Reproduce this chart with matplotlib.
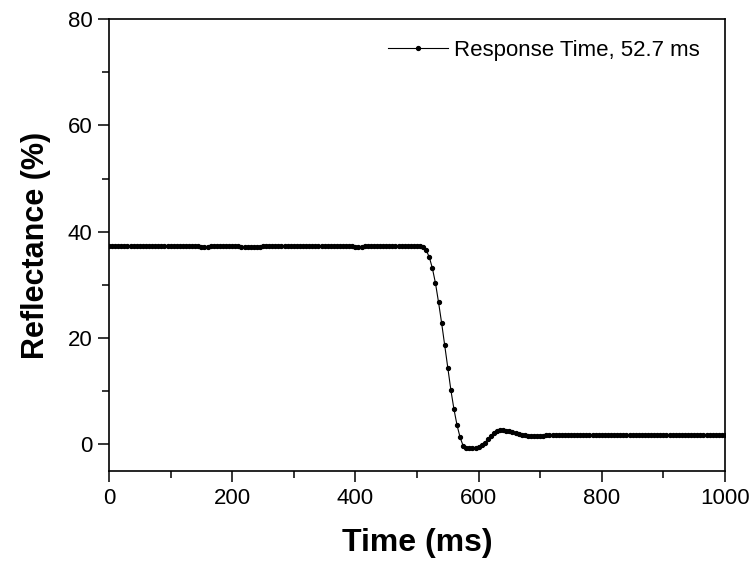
import matplotlib.pyplot as plt
import numpy as np
from matplotlib.ticker import MultipleLocator

plt.rcParams['font.family'] = ['Liberation Sans', 'DejaVu Sans']

# time axis, 5 ms sampling
time_ms = np.arange(0, 1001, 5)

# reflectance (%), 10 samples per row
reflectance = [
    37.3, 37.3, 37.3, 37.3, 37.3, 37.3, 37.3, 37.3, 37.3, 37.3,   # 0-45
    37.3, 37.3, 37.3, 37.3, 37.3, 37.3, 37.3, 37.3, 37.3, 37.3,   # 50-95
    37.3, 37.3, 37.3, 37.3, 37.3, 37.3, 37.3, 37.3, 37.3, 37.3,   # 100-145
    37.2, 37.2, 37.2, 37.3, 37.3, 37.3, 37.3, 37.3, 37.3, 37.3,   # 150-195
    37.3, 37.3, 37.3, 37.2, 37.2, 37.1, 37.1, 37.1, 37.2, 37.2,   # 200-245
    37.3, 37.3, 37.3, 37.3, 37.3, 37.3, 37.3, 37.3, 37.3, 37.3,   # 250-295
    37.3, 37.3, 37.3, 37.4, 37.4, 37.4, 37.4, 37.4, 37.3, 37.3,   # 300-345
    37.3, 37.3, 37.3, 37.3, 37.3, 37.3, 37.3, 37.3, 37.3, 37.3,   # 350-395
    37.2, 37.2, 37.2, 37.3, 37.3, 37.3, 37.3, 37.3, 37.3, 37.3,   # 400-445
    37.3, 37.3, 37.3, 37.3, 37.3, 37.3, 37.3, 37.3, 37.3, 37.3,   # 450-495
    37.3, 37.3, 37.1, 36.5, 35.2, 33.1, 30.3, 26.7, 22.8, 18.6,   # 500-545
    14.3, 10.2, 6.6, 3.6, 1.3, -0.3, -0.6, -0.6, -0.6, -0.6,      # 550-595
    -0.5, -0.2, 0.3, 1.0, 1.6, 2.1, 2.45, 2.65, 2.7, 2.6,         # 600-645
    2.45, 2.3, 2.1, 1.95, 1.8, 1.7, 1.65, 1.6, 1.57, 1.56,        # 650-695
    1.58, 1.65, 1.7, 1.75, 1.8, 1.82, 1.82, 1.82, 1.8, 1.8,       # 700-745
    1.8, 1.8, 1.78, 1.76, 1.75, 1.75, 1.75, 1.75, 1.75, 1.75,     # 750-795
    1.75, 1.75, 1.75, 1.75, 1.75, 1.75, 1.75, 1.75, 1.75, 1.75,   # 800-845
    1.75, 1.75, 1.75, 1.75, 1.75, 1.75, 1.75, 1.75, 1.75, 1.75,   # 850-895
    1.75, 1.75, 1.75, 1.75, 1.75, 1.75, 1.75, 1.75, 1.75, 1.75,   # 900-945
    1.75, 1.75, 1.75, 1.75, 1.75, 1.75, 1.75, 1.75, 1.75, 1.75,   # 950-995
    1.75,                                                          # 1000
]

fig = plt.figure(figsize=(7.56, 5.65), dpi=100)
ax = fig.add_axes([0.1442, 0.1664, 0.8148, 0.80])

ax.plot(time_ms, reflectance, color='black', lw=0.8, marker='o', ms=2.8,
        mec='black', mfc='black', label='Response Time, 52.7 ms')

ax.set_xlim(0, 1000)
ax.set_ylim(-5, 80)
ax.xaxis.set_major_locator(MultipleLocator(200))
ax.xaxis.set_minor_locator(MultipleLocator(100))
ax.yaxis.set_major_locator(MultipleLocator(20))
ax.yaxis.set_minor_locator(MultipleLocator(10))
ax.tick_params(which='major', direction='out', length=8, width=1.1, labelsize=16, pad=4)
ax.tick_params(which='minor', direction='out', length=5, width=1.1)
for s in ax.spines.values():
    s.set_linewidth(1.2)

ax.set_xlabel('Time (ms)', fontsize=23, fontweight='bold', labelpad=14)
ax.set_ylabel('Reflectance (%)', fontsize=22, fontweight='bold', labelpad=12)

ax.legend(loc='upper right', bbox_to_anchor=(1.003, 1.012), frameon=False,
          fontsize=16, numpoints=1, handlelength=2.7, handletextpad=0.3,
          borderaxespad=0.8)

fig.savefig('out.png', dpi=100)
